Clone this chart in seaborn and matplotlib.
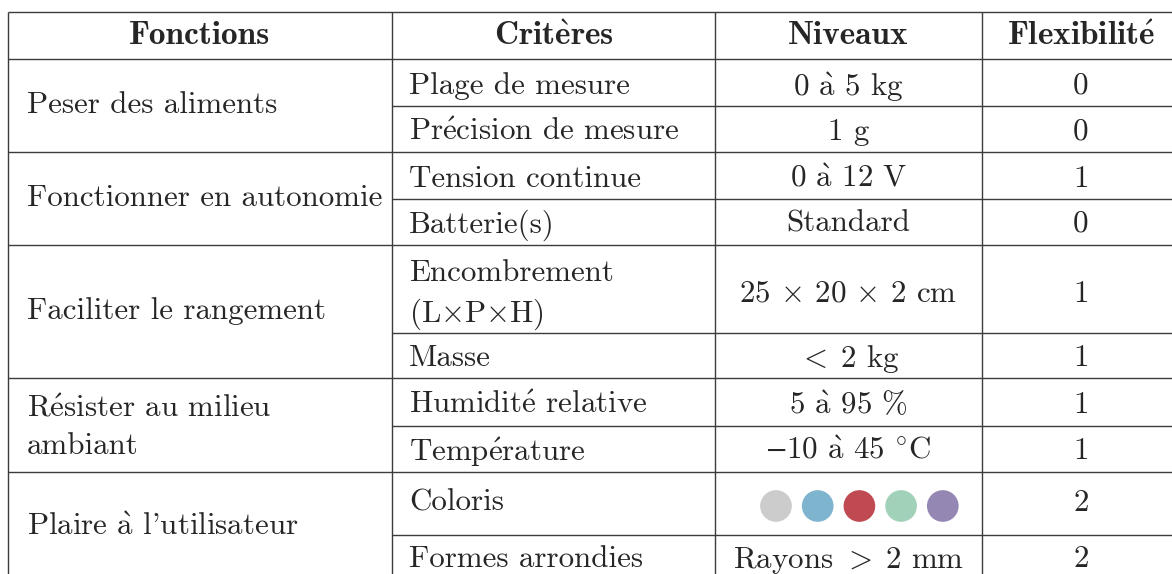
import matplotlib
matplotlib.use("Agg")
import matplotlib.pyplot as plt
import seaborn as sns
import pandas as pd

# ---- data ----
headers = ["Fonctions", "Critères", "Niveaux", "Flexibilité"]
functions = ["Peser des aliments", "Fonctionner en autonomie", "Faciliter le rangement",
             "Résister au milieu\nambiant", "Plaire à l’utilisateur"]
criteria = ["Plage de mesure", "Précision de mesure", "Tension continue", "Batterie(s)",
            "Encombrement\n(L×P×H)", "Masse", "Humidité relative", "Température",
            "Coloris", "Formes arrondies"]
levels = ["0 à 5 kg", "1 g", "0 à 12 V", "Standard", "25 × 20 × 2 cm", "< 2 kg",
          "5 à 95 %", "−10 à 45 °C", "", "Rayons > 2 mm"]
flexibility = [0, 0, 1, 0, 1, 1, 1, 1, 2, 2]
group_of_row = [0, 0, 1, 1, 2, 2, 3, 3, 4, 4]
swatch_colors = ["#cccccc", "#7fb4cf", "#c04a52", "#a2d1b9", "#9587b3"]

# ---- layout (pixels) ----
W, H = 1172, 574
col_x = [8, 392, 715, 982, 1180]
header_top, header_bot = 12, 59
row_bounds = [59, 106, 152, 199, 245, 333, 378, 426, 472, 535, 582]
row_text_y = [83, 129, 176, 221, 291, 355, 402, 448, 500, 556]
LC = "#3c3c3c"
LW = 1.0
FS = 22.3
FS_B = 24.0


def tex(s, bold=False):
    """Render characters missing from the Computer Modern text font via mathtext."""
    wrap = (lambda t: r"$\mathbf{" + t + "}$") if bold else (lambda t: r"$\mathrm{" + t + "}$")
    s = s.replace("< ", "\x01").replace(" > ", "\x02").replace("−", "\x03")
    rep = {
        "é": wrap(r"\acute{e}"),
        "è": wrap(r"\grave{e}"),
        "à": wrap(r"\grave{a}"),
        "×": r"$\times$",
        "\x01": r"$<\;$",
        "\x02": r" $>\;$",
        "\x03": r"$\minus$",
        "°": r"$^{\circ}$",
        "’": "'",
    }
    return "".join(rep.get(ch, ch) for ch in s)


sns.set_theme(style="white")
plt.rcParams["font.family"] = ["cmr10", "DejaVu Serif"]
plt.rcParams["mathtext.fontset"] = "cm"
plt.rcParams["axes.unicode_minus"] = False

fig = plt.figure(figsize=(W / 100, H / 100), dpi=100)
ax = fig.add_axes([0, 0, 1, 1])

# colour swatches (seaborn scatter)
cx0, step = 776, 41.7
sw = pd.DataFrame({
    "x": [cx0 + i * step for i in range(len(swatch_colors))],
    "y": [506] * len(swatch_colors),
    "c": swatch_colors,
})
sns.scatterplot(data=sw, x="x", y="y", hue="c",
                palette=dict(zip(swatch_colors, swatch_colors)),
                s=520, linewidth=0, legend=False, ax=ax)
ax.set_xlim(0, W)
ax.set_ylim(H, 0)
ax.axis("off")

# grid lines
ax.hlines(header_top, col_x[0], col_x[-1], color=LC, lw=LW)
ax.hlines(header_bot, col_x[0], col_x[-1], color=LC, lw=LW)
for i in range(1, len(row_bounds)):
    y = row_bounds[i]
    full = i == len(row_bounds) - 1 or group_of_row[i] != group_of_row[i - 1]
    ax.hlines(y, col_x[0] if full else col_x[1], col_x[-1], color=LC, lw=LW)
for x in col_x:
    ax.vlines(x, header_top, row_bounds[-1], color=LC, lw=LW)

# headers
for j, h in enumerate(headers):
    ax.text((col_x[j] + col_x[j + 1]) / 2, 36, tex(h, bold=True), ha="center",
            va="center", fontsize=FS_B, family=["cmb10", "DejaVu Serif"])

# function column (grouped)
group_rows = {}
for r, g in enumerate(group_of_row):
    group_rows.setdefault(g, []).append(r)
for g, f in enumerate(functions):
    rows = group_rows[g]
    top, bot = row_bounds[rows[0]], row_bounds[rows[-1] + 1]
    lines = f.split("\n")
    if len(lines) > 1:
        for k, ln in enumerate(lines):
            ax.text(col_x[0] + 19, top + 28 + 37 * k, tex(ln), ha="left",
                    va="center_baseline", fontsize=FS)
    else:
        ax.text(col_x[0] + 19, (top + bot) / 2 - 3, tex(f), ha="left",
                va="center_baseline", fontsize=FS)

# criteria, levels, flexibility
for r in range(len(criteria)):
    top, bot = row_bounds[r], row_bounds[r + 1]
    yc = row_text_y[r]
    lines = criteria[r].split("\n")
    if len(lines) > 1:
        for k, ln in enumerate(lines):
            ax.text(col_x[1] + 17, top + 25 + 39 * k, tex(ln), ha="left",
                    va="center_baseline", fontsize=FS)
    else:
        ax.text(col_x[1] + 17, yc, tex(lines[0]), ha="left",
                va="center_baseline", fontsize=FS)
    ax.text((col_x[2] + col_x[3]) / 2, yc, tex(levels[r]), ha="center",
            va="center_baseline", fontsize=FS)
    ax.text((col_x[3] + col_x[4]) / 2, yc, str(flexibility[r]), ha="center",
            va="center_baseline", fontsize=FS)

fig.savefig("out.png", dpi=100)
